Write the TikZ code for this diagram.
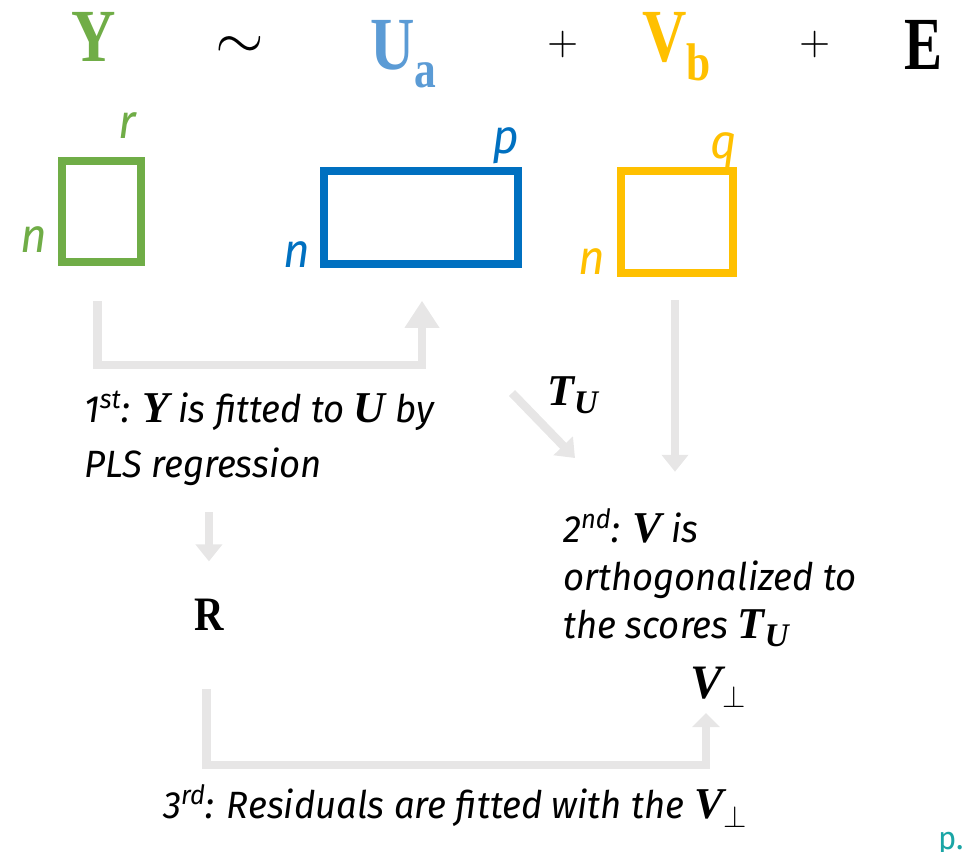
\documentclass[tikz,border=0pt]{standalone}
\usepackage{fontspec}
\usepackage{unicode-math}
\setmathfont{Latin Modern Math}
\newfontfamily\notefont{Fira Sans}[FakeStretch=0.96]
\newfontfamily\eqfont{Liberation Serif}
\usetikzlibrary{arrows.meta,positioning}

\definecolor{ygreen}{HTML}{70AD47}
\definecolor{ublue}{HTML}{5B9BD5}
\definecolor{boxblue}{HTML}{0070C0}
\definecolor{vyellow}{HTML}{FFC000}
\definecolor{flowgray}{HTML}{E7E6E6}
\definecolor{pageteal}{HTML}{1AA5A5}

\newcommand{\narrowed}[2][0.82]{\scalebox{#1}[1]{#2}}
\newcommand{\mvec}[2][44]{{\eqfont\bfseries\itshape\fontsize{#1}{\the\baselineskip}\selectfont #2}}
\newcommand{\eqsub}[2][-18pt]{\raisebox{#1}{\fontsize{53}{53}\selectfont #2}}

\begin{document}
\begin{tikzpicture}[x=1pt, y=-1pt,
  matbox/.style 2 args={draw, line width=7.5pt, minimum width=#1, minimum height=#2, inner sep=0pt},
  dimlabel/.style={font=\notefont\itshape\fontsize{48}{48}\selectfont, inner sep=0pt},
  eqsym/.style={font=\eqfont\bfseries\fontsize{75}{75}\selectfont, inner sep=0pt},
  stepnote/.style={font=\notefont\itshape\fontsize{38}{55}\selectfont, align=left, inner sep=0pt},
  flow/.style={draw=flowgray, line width=8.5pt},
  bighead/.style={-{Triangle[width=33pt,length=27pt]}},
  smallhead/.style={-{Triangle[width=26pt,length=17pt]}}]
\useasboundingbox (0,0) rectangle (963,851);

% model line
\node[eqsym, text=ygreen, anchor=base] (eqy) at (94,62) {\narrowed{Y}};
\node[font=\fontsize{63}{63}\selectfont, inner sep=0pt] (eqsim) at (240,48) {$\boldsymbol{\sim}$};
\node[eqsym, text=ublue, anchor=base west] (equ) at (370,70) {\narrowed{U\eqsub{a}}};
\node[font=\fontsize{40}{40}\selectfont, inner sep=0pt] (plusa) at (563,45) {$+$};
\node[eqsym, text=vyellow, anchor=base west] (eqv) at (642,62) {\narrowed{V\eqsub{b}}};
\node[font=\fontsize{40}{40}\selectfont, inner sep=0pt] (plusb) at (815,45) {$+$};
\node[eqsym, anchor=base west] (eqe) at (904,70) {\narrowed[0.76]{E}};

% matrices
\node[matbox={79pt}{101pt}, draw=ygreen] (ybox) at (101.5,211.5) {};
\node[matbox={194pt}{93pt}, draw=boxblue] (ubox) at (421,217.5) {};
\node[matbox={112pt}{102pt}, draw=vyellow] (vbox) at (677,222) {};

\node[dimlabel, text=ygreen, anchor=base] at ([shift={(-17,-19)}]ybox.north east) {r};
\node[dimlabel, text=ygreen, anchor=base] at ([shift={(-24,-13)}]ybox.south west) {n};
\node[dimlabel, text=boxblue, anchor=base] at ([shift={(-16,-14)}]ubox.north east) {p};
\node[dimlabel, text=boxblue, anchor=base] at ([shift={(-23,0)}]ubox.south west) {n};
\node[dimlabel, text=vyellow, anchor=base] at ([shift={(-13,-9)}]vbox.north east) {q};
\node[dimlabel, text=vyellow, anchor=base] at ([shift={(-25,-2)}]vbox.south west) {n};

% steps
\node[stepnote, anchor=base west] (fit) at (84,477) {1\textsuperscript{st}: \mvec{Y} is fitted to \mvec{U} by\\PLS regression};
\node[anchor=base west, inner sep=0pt] (tu) at (547,405) {\mvec{T}\raisebox{-8pt}{\mvec[33]{U}}};
\node[stepnote, anchor=base west, font=\notefont\itshape\fontsize{38}{48}\selectfont] (orth) at (563,638) {2\textsuperscript{nd}: \mvec{V} is\\orthogonalized to\\the scores \mvec{T}\raisebox{-8pt}{\mvec[33]{U}}};
\node[eqsym, anchor=base west, font=\eqfont\bfseries\fontsize{48}{48}\selectfont] (R) at (194,630) {\narrowed[0.85]{R}};
\node[anchor=base west, inner sep=0pt] (vperp) at (690,698) {\mvec[48]{V}\raisebox{-9pt}{\fontsize{30}{30}\selectfont$\perp$}};
\node[stepnote, anchor=base west] (resid) at (163,818) {3\textsuperscript{rd}: Residuals are fitted with the \mvec{V}\raisebox{-9pt}{\fontsize{30}{30}\selectfont$\perp$}};
\node[font=\notefont\fontsize{32}{32}\selectfont, text=pageteal, anchor=base west, inner sep=0pt] (pagemark) at (938,849) {p.};

% flow arrows
\draw[flow, bighead] ([xshift=-4,yshift=-35]ybox.south) -- ++(0,64) -| ([xshift=1,yshift=-33]ubox.south);
\draw[flow, smallhead] ([yshift=86]R.north) -- ([yshift=37]R.north);
\draw[flow, smallhead] ([shift={(-35,-12)}]tu.base west) -- ([shift={(28,53)}]tu.base west);
\draw[flow, smallhead] ([xshift=-2,yshift=-23]vbox.south) -- ++(0,172);
\draw[flow, -{Triangle[width=27pt,length=14pt]}] ([xshift=-2.5,yshift=-59]R.south) -- ++(0,76) -| ([shift={(16,15)}]vperp.base west);
\end{tikzpicture}
\end{document}
